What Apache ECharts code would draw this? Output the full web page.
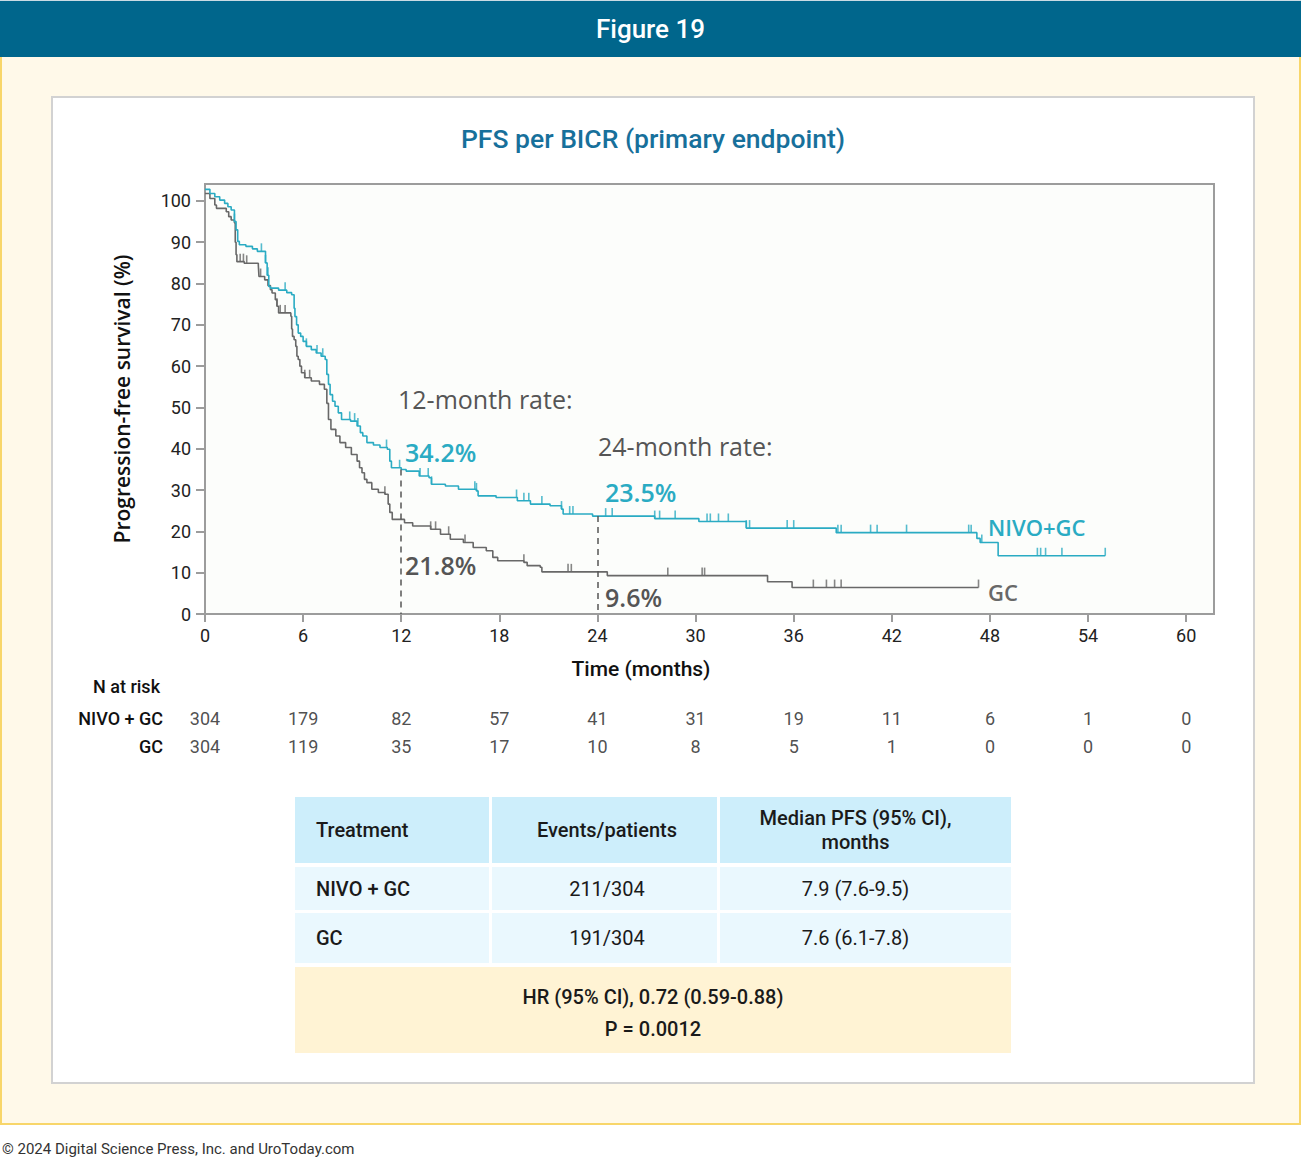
<!DOCTYPE html>
<html>
<head>
<meta charset="utf-8">
<script src="https://cdn.jsdelivr.net/npm/echarts@6/dist/echarts.min.js"></script>
<style>
  html,body{margin:0;padding:0;background:#fff;width:1301px;height:1159px;overflow:hidden;font-family:Roboto,"Noto Sans",sans-serif;}
  .abs{position:absolute;box-sizing:border-box;}
  #topline{left:0;top:0;width:1301px;height:1px;background:#c9dbe4;}
  #header{left:0;top:1px;width:1301px;height:56px;background:#00668c;color:#fff;font-size:26px;font-weight:500;text-align:center;line-height:56px;}
  #cream{left:0;top:57px;width:1301px;height:1068px;background:#fff9e9;border-left:2px solid #f8d66a;border-right:2px solid #f8d66a;border-bottom:2px solid #f8d66a;}
  #panel{left:51px;top:96px;width:1204px;height:988px;background:#fff;border:2px solid #d2d2d2;}
  #chart{left:0;top:0;width:1301px;height:1159px;z-index:2;pointer-events:none;}
  .cell{position:absolute;box-sizing:border-box;display:flex;align-items:center;font-size:20px;color:#1a1a1a;z-index:3;line-height:24px;}
  .hd{background:#cdeefb;font-weight:500;}
  .rw{background:#eaf8fe;}
  .hr{background:#fff3d4;font-weight:500;justify-content:center;text-align:center;flex-direction:column;padding-top:6px;}
  .c{justify-content:center;text-align:center;}
  .c2{padding-left:5px;}
  .c3{padding-right:20px;}
  .l{padding-left:21px;}
  #footer{left:2px;top:1140px;font-size:15px;color:#333;z-index:3;}
</style>
</head>
<body>
<div id="topline" class="abs"></div>
<div id="header" class="abs">Figure 19</div>
<div id="cream" class="abs"></div>
<div id="panel" class="abs"></div>

<div class="cell hd l" style="left:295px;top:797px;width:194px;height:66px;">Treatment</div>
<div class="cell hd c c2" style="left:492px;top:797px;width:225px;height:66px;">Events/patients</div>
<div class="cell hd c c3" style="left:720px;top:797px;width:291px;height:66px;">Median PFS (95% CI),<br>months</div>
<div class="cell rw l" style="left:295px;top:867px;width:194px;height:43px;font-weight:500;">NIVO + GC</div>
<div class="cell rw c c2" style="left:492px;top:867px;width:225px;height:43px;">211/304</div>
<div class="cell rw c c3" style="left:720px;top:867px;width:291px;height:43px;">7.9 (7.6-9.5)</div>
<div class="cell rw l" style="left:295px;top:913px;width:194px;height:50px;font-weight:500;">GC</div>
<div class="cell rw c c2" style="left:492px;top:913px;width:225px;height:50px;">191/304</div>
<div class="cell rw c c3" style="left:720px;top:913px;width:291px;height:50px;">7.6 (6.1-7.8)</div>
<div class="cell hr" style="left:295px;top:967px;width:716px;height:86px;line-height:32px;"><div>HR (95% CI), 0.72 (0.59-0.88)</div><div>P = 0.0012</div></div>

<div id="footer" class="abs">© 2024 Digital Science Press, Inc. and UroToday.com</div>
<div id="chart" class="abs"></div>

<script>
// ---- data ----
const xTicks = [0, 6, 12, 18, 24, 30, 36, 42, 48, 54, 60];
const yTicks = [0, 10, 20, 30, 40, 50, 60, 70, 80, 90, 100];

const nivoTime = [0, 0.3, 0.6, 0.9, 1.2, 1.4, 1.6, 1.8, 1.9, 2.0, 2.1, 2.5, 2.9, 3.2, 3.7, 3.8, 3.9, 4.0, 4.5, 5.0, 5.3, 5.45, 5.5, 5.6, 5.7, 5.85, 6.0, 6.2, 6.5, 6.8, 7.1, 7.35, 7.45, 7.55, 7.65, 7.8, 7.95, 8.15, 8.35, 8.9, 9.3, 9.5, 9.65, 9.9, 10.3, 10.7, 11.15, 11.3, 11.4, 12.0, 12.3, 13.1, 13.7, 13.85, 14.7, 15.5, 16.6, 16.7, 17.8, 19.1, 19.9, 21.1, 21.8, 21.9, 23.7, 27.5, 30.2, 33.1, 38.6, 47.2, 47.4, 48.5, 55.05];
const nivoSurv = [102.8, 101.8, 101.0, 100.2, 99.4, 98.6, 97.8, 95.0, 93.0, 90.2, 89.4, 89.0, 88.4, 87.8, 85.0, 82.0, 79.3, 78.9, 78.4, 77.8, 77.3, 74.0, 72.0, 70.0, 68.0, 67.2, 66.0, 64.8, 64.0, 63.2, 62.4, 61.6, 58.0, 55.6, 53.1, 51.5, 50.3, 48.7, 47.1, 46.7, 45.5, 43.9, 43.1, 41.5, 40.9, 40.3, 39.9, 37.0, 35.4, 35.0, 34.6, 33.4, 33.0, 31.4, 31.0, 30.2, 29.8, 28.6, 28.2, 27.4, 26.6, 26.2, 25.4, 24.2, 23.7, 23.1, 22.4, 20.8, 19.7, 18.3, 17.3, 14.1, 14.1];
const nivoCensor = [1.8, 3.45, 3.7, 3.85, 4.9, 6.2, 6.85, 7.2, 8.85, 9.15, 9.35, 11.1, 11.9, 13.15, 13.65, 13.85, 16.5, 16.6, 19.05, 19.5, 19.8, 20.6, 21.8, 22.3, 22.5, 24.5, 24.9, 27.5, 27.8, 28.75, 30.7, 30.9, 31.4, 32.0, 33.1, 33.3, 35.6, 36.0, 38.7, 38.9, 40.7, 41.1, 42.9, 46.7, 46.85, 47.5, 50.9, 51.1, 51.4, 52.4, 55.05];

const gcTime = [0, 0.3, 0.6, 0.7, 1.3, 1.45, 1.6, 1.8, 1.85, 1.9, 1.95, 2.4, 3.26, 3.3, 3.65, 3.85, 4.0, 4.1, 4.3, 4.4, 4.5, 5.25, 5.3, 5.35, 5.45, 5.55, 5.62, 5.7, 5.8, 5.9, 6.1, 6.5, 7.0, 7.3, 7.45, 7.55, 7.7, 8.0, 8.25, 8.6, 8.95, 9.3, 9.45, 9.6, 9.75, 9.9, 10.2, 10.6, 11.0, 11.2, 11.3, 11.45, 12.2, 12.7, 13.8, 14.4, 15.0, 15.8, 16.4, 17.2, 17.6, 17.9, 19.5, 19.7, 20.5, 20.6, 24.6, 34.4, 35.9, 47.3];
const gcSurv = [101.8, 100.6, 99.0, 98.2, 97.4, 96.2, 95.4, 94.7, 90.0, 87.0, 85.3, 84.9, 84.5, 81.7, 80.9, 79.5, 78.5, 77.7, 76.1, 74.5, 72.9, 72.1, 69.0, 67.2, 66.4, 64.8, 62.4, 61.6, 60.0, 58.4, 57.2, 56.4, 55.6, 54.4, 51.0, 47.1, 44.7, 43.1, 41.5, 40.3, 38.6, 37.0, 35.4, 34.2, 32.6, 31.8, 30.2, 29.4, 29.0, 26.6, 24.6, 22.9, 22.1, 21.3, 20.5, 19.3, 18.1, 17.3, 16.1, 15.3, 13.7, 12.9, 12.5, 11.7, 11.3, 10.2, 9.3, 7.8, 6.4, 6.4];
const gcCensor = [2.15, 2.35, 2.55, 3.4, 4.4, 4.6, 4.9, 6.1, 6.4, 11.0, 13.8, 14.1, 14.9, 15.9, 19.5, 22.2, 22.4, 28.3, 30.4, 30.55, 37.2, 38.0, 38.5, 38.9, 47.3];

const riskTimes = [0, 6, 12, 18, 24, 30, 36, 42, 48, 54, 60];
const nivoRisk = [304, 179, 82, 57, 41, 31, 19, 11, 6, 1, 0];
const gcRisk = [304, 119, 35, 17, 10, 8, 5, 1, 0, 0, 0];
const riskRows = ['NIVO + GC', 'GC'];
const landmarks = [12, 24];

// ---- helpers ----
function survAt(times, surv, t) {
  let s = surv[0];
  for (let i = 0; i < times.length; i++) { if (times[i] <= t + 1e-9) s = surv[i]; }
  return s;
}
const CYAN = '#2aabc3', GRAY = '#686868';
const pairs = (ts, ss) => ts.map((t, i) => [t, ss[i]]);

const chart = echarts.init(document.getElementById('chart'), null, { renderer: 'svg' });
const xMax = 61.7, yMax = 104.1;

const txt = (x, y, s, size, color, weight, family, align) => ({
  type: 'text', x: x, y: y,
  style: { text: s, fontSize: size, fill: color, fontWeight: weight || 400,
           fontFamily: family || 'Roboto', textVerticalAlign: 'middle', textAlign: align || 'left' }
});

chart.setOption({
  animation: false,
  backgroundColor: 'transparent',
  grid: [
    { left: 205, top: 184, width: 1009, height: 430, show: true, backgroundColor: '#fcfdfb', borderColor: '#9c9c9c', borderWidth: 2, containLabel: false },
    { left: 205, top: 704, width: 1009, height: 56, containLabel: false }
  ],
  xAxis: [
    { type: 'value', gridIndex: 0, min: 0, max: xMax, interval: 6,
      axisLine: { show: true, lineStyle: { color: '#9c9c9c', width: 2 } },
      axisTick: { show: true, length: 8, lineStyle: { color: '#9c9c9c', width: 2 }, customValues: xTicks },
      axisLabel: { customValues: xTicks, fontSize: 18, color: '#222', margin: 12, fontFamily: 'Roboto' },
      splitLine: { show: false } },
    { type: 'value', gridIndex: 1, min: 0, max: xMax, show: false }
  ],
  yAxis: [
    { type: 'value', gridIndex: 0, min: 0, max: yMax, interval: 10,
      name: 'Progression-free survival (%)', nameLocation: 'middle', nameGap: 73, nameRotate: 90,
      nameTextStyle: { fontSize: 21, fontWeight: 600, color: '#111', fontFamily: 'Open Sans' },
      axisLine: { show: true, lineStyle: { color: '#9c9c9c', width: 2 } },
      axisTick: { show: true, length: 9, lineStyle: { color: '#9c9c9c', width: 2 }, customValues: yTicks },
      axisLabel: { customValues: yTicks, fontSize: 18, color: '#222', margin: 14, fontFamily: 'Roboto' },
      splitLine: { show: false } },
    { type: 'category', gridIndex: 1, data: riskRows, inverse: true,
      axisLine: { show: false }, axisTick: { show: false },
      axisLabel: { fontSize: 18, color: '#111', margin: 42, fontWeight: 500, fontFamily: 'Roboto' } }
  ],
  series: [
    { name: 'GC', type: 'line', step: 'end', data: pairs(gcTime, gcSurv), showSymbol: false,
      lineStyle: { color: GRAY, width: 1.6 }, z: 3 },
    { name: 'NIVO+GC', type: 'line', step: 'end', data: pairs(nivoTime, nivoSurv), showSymbol: false,
      lineStyle: { color: CYAN, width: 1.6 }, z: 4,
      markLine: { symbol: 'none', silent: true, label: { show: false },
        lineStyle: { color: '#555', width: 1.5, type: [6, 5] },
        data: landmarks.map(t => [{ coord: [t, survAt(nivoTime, nivoSurv, t)] }, { coord: [t, 0] }]) } },
    { name: 'GC censored', type: 'scatter', data: gcCensor.map(t => [t, survAt(gcTime, gcSurv, t)]),
      symbol: 'rect', symbolSize: [1.6, 8], symbolOffset: [0, -4], itemStyle: { color: GRAY }, z: 5 },
    { name: 'NIVO censored', type: 'scatter', data: nivoCensor.map(t => [t, survAt(nivoTime, nivoSurv, t)]),
      symbol: 'rect', symbolSize: [1.6, 8], symbolOffset: [0, -4], itemStyle: { color: CYAN }, z: 6 },
    { name: 'risk', type: 'scatter', xAxisIndex: 1, yAxisIndex: 1,
      data: riskTimes.map((t, i) => [t, riskRows[0], nivoRisk[i]]).concat(riskTimes.map((t, i) => [t, riskRows[1], gcRisk[i]])),
      symbolSize: 1, itemStyle: { color: 'rgba(0,0,0,0)' },
      label: { show: true, position: 'inside', formatter: p => String(p.value[2]), fontSize: 18, color: '#222', fontFamily: 'Roboto' } }
  ],
  graphic: [
    txt(653, 138, 'PFS per BICR (primary endpoint)', 26.5, '#17709b', 500, 'Roboto', 'center'),
    txt(641, 669, 'Time (months)', 21, '#111', 500, 'Roboto', 'center'),
    txt(93, 686, 'N at risk', 18, '#111', 500, 'Roboto', 'left'),
    txt(398, 399, '12-month rate:', 25, '#555', 400, 'Open Sans', 'left'),
    txt(405, 452, '34.2%', 25, CYAN, 600, 'Open Sans', 'left'),
    txt(598, 446, '24-month rate:', 25, '#555', 400, 'Open Sans', 'left'),
    txt(605, 492, '23.5%', 25, CYAN, 600, 'Open Sans', 'left'),
    txt(405, 565, '21.8%', 25, '#555', 600, 'Open Sans', 'left'),
    txt(605, 597, '9.6%', 25, '#555', 600, 'Open Sans', 'left'),
    txt(988, 527, 'NIVO+GC', 22, CYAN, 600, 'Open Sans', 'left'),
    txt(988, 592, 'GC', 22, GRAY, 600, 'Open Sans', 'left')
  ]
});
</script>
</body>
</html>
